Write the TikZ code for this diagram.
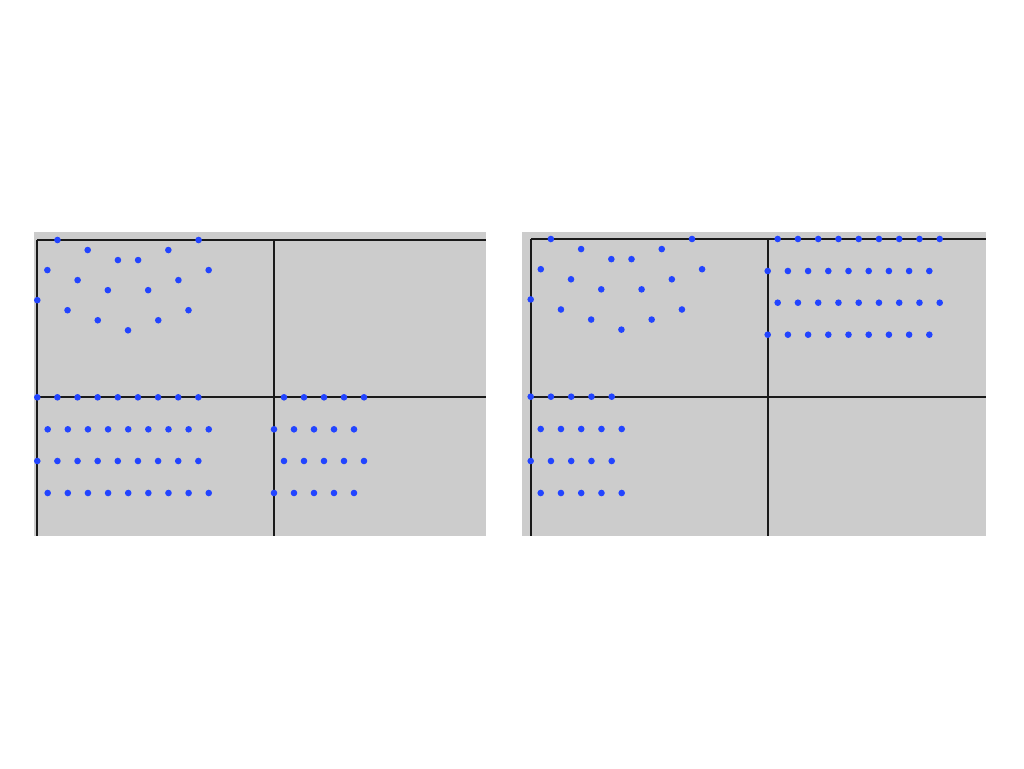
\documentclass[tikz,border=0pt]{standalone}
\usepackage{tikz}
\definecolor{panelgray}{RGB}{204,204,204}
\definecolor{dotblue}{RGB}{34,68,255}
\definecolor{axisblack}{RGB}{25,25,25}
\tikzset{
  dotmark/.style={fill=dotblue},
  axisline/.style={draw=axisblack, line width=1.6pt},
}
\begin{document}
\begin{tikzpicture}[x=1pt,y=-1pt]
\useasboundingbox (0,0) rectangle (1024,768);
\fill[white] (0,0) rectangle (1024,768);
% ---------- left panel ----------
\fill[panelgray] (34,232) rectangle (486,536);
\draw[axisline] (37,240) -- (486,240);
\draw[axisline] (37,240) -- (37,536);
\draw[axisline] (274,240) -- (274,536);
\draw[axisline] (37,397) -- (486,397);
\foreach \k/\j in {2/0,16/0,5/1,13/1,8/2,10/2,1/3,17/3,4/4,14/4,7/5,11/5,0/6,3/7,15/7,6/8,12/8,9/9}
  \fill[dotmark] ({37.3+10.08*\k},{240+10.03*\j}) circle (3.3);
\foreach \y in {397.3,461}{
  \foreach \i in {0,...,8} \fill[dotmark] ({37.3+20.13*\i},\y) circle (3.3);
  \foreach \i in {0,...,4} \fill[dotmark] ({284+20*\i},\y) circle (3.3);
}
\foreach \y in {429.3,493}{
  \foreach \i in {0,...,8} \fill[dotmark] ({47.7+20.13*\i},\y) circle (3.3);
  \foreach \i in {0,...,4} \fill[dotmark] ({274+20*\i},\y) circle (3.3);
}
% ---------- right panel ----------
\fill[panelgray] (522,232) rectangle (986,536);
\draw[axisline] (531,239) -- (986,239);
\draw[axisline] (531,239) -- (531,536);
\draw[axisline] (768,239) -- (768,536);
\draw[axisline] (531,397) -- (986,397);
\foreach \k/\j in {2/0,16/0,5/1,13/1,8/2,10/2,1/3,17/3,4/4,14/4,7/5,11/5,0/6,3/7,15/7,6/8,12/8,9/9}
  \fill[dotmark] ({530.7+10.08*\k},{239+10.07*\j}) circle (3.3);
\foreach \y in {239,302.7}{
  \foreach \i in {0,...,8} \fill[dotmark] ({777.7+20.25*\i},\y) circle (3.3);
}
\foreach \y in {271,334.7}{
  \foreach \i in {0,...,8} \fill[dotmark] ({767.7+20.2*\i},\y) circle (3.3);
}
\foreach \y in {396.7,461}{
  \foreach \i in {0,...,4} \fill[dotmark] ({530.7+20.25*\i},\y) circle (3.3);
}
\foreach \y in {429,493}{
  \foreach \i in {0,...,4} \fill[dotmark] ({540.7+20.25*\i},\y) circle (3.3);
}
\end{tikzpicture}
\end{document}
